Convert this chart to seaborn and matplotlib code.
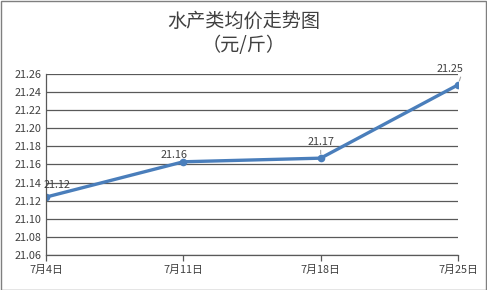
import matplotlib
matplotlib.use("Agg")
import matplotlib.pyplot as plt
import seaborn as sns
import pandas as pd
from matplotlib.patches import Rectangle

dates = ["7月4日", "7月11日", "7月18日", "7月25日"]
prices = [21.124, 21.163, 21.167, 21.248]
yticks = [21.06, 21.08, 21.10, 21.12, 21.14, 21.16, 21.18, 21.20, 21.22, 21.24, 21.26]

sns.set_theme(style="white")
plt.rcParams['font.family'] = ['Noto Sans CJK SC', 'DejaVu Sans']

df = pd.DataFrame({"date": dates, "price": prices, "x": range(len(dates))})

fig = plt.figure(figsize=(4.87, 2.90), dpi=100)
ax = fig.add_axes([46/487, 1-255/290, (458-46)/487, (255-74)/290])

sns.lineplot(data=df, x="x", y="price", ax=ax, color="#4A7EBB", linewidth=2.4,
             marker="o", markersize=5.5, markeredgewidth=0, sort=False)

ax.set_xlim(0, len(dates)-1)
ax.set_ylim(21.06, 21.26)
ax.set_yticks(yticks)
ax.set_yticklabels([f"{v:.2f}" for v in yticks], fontsize=7.8, color="#404040")
ax.set_xticks(range(len(dates)))
ax.set_xticklabels(dates, fontsize=7.8, color="#404040")
ax.set_xlabel("")
ax.set_ylabel("")
ax.grid(axis="y", color="#595959", linewidth=0.9)
ax.set_axisbelow(True)
for s in ["top", "right"]:
    ax.spines[s].set_visible(False)
for s in ["left", "bottom"]:
    ax.spines[s].set_color("#595959")
    ax.spines[s].set_linewidth(0.9)
ax.tick_params(axis="x", length=4, color="#595959", width=0.9, pad=3, direction="out", bottom=True)
ax.tick_params(axis="y", length=0, pad=3)

# data labels
offsets = [(8, 5), (-7, 1), (0, 8), (-6, 8)]
leaders = [None, None, (0.5, 0), (0.95, 0)]
for i, (v, off, ld) in enumerate(zip(prices, offsets, leaders)):
    kw = {}
    if ld is not None:
        kw["arrowprops"] = dict(arrowstyle="-", color="#a6a6a6", lw=0.8, shrinkA=0, shrinkB=3, relpos=ld)
    ax.annotate(f"{v:.2f}", xy=(i, v), xytext=off, textcoords="offset points",
                ha="center", va="bottom", fontsize=7.8, color="#404040",
                annotation_clip=False, **kw)

fig.text(0.5, 1-21/290, "水产类均价走势图", ha="center", va="center", fontsize=13.8, color="#404040")
fig.text(0.5, 1-45/290, "（元/斤）", ha="center", va="center", fontsize=13.8, color="#404040")

fig.patches.append(Rectangle((0.5/487, 0.5/290), 1-1.5/487, 1-1.5/290, transform=fig.transFigure,
                             fill=False, edgecolor="#7f7f7f", linewidth=1))

fig.savefig("out.png", dpi=100)
